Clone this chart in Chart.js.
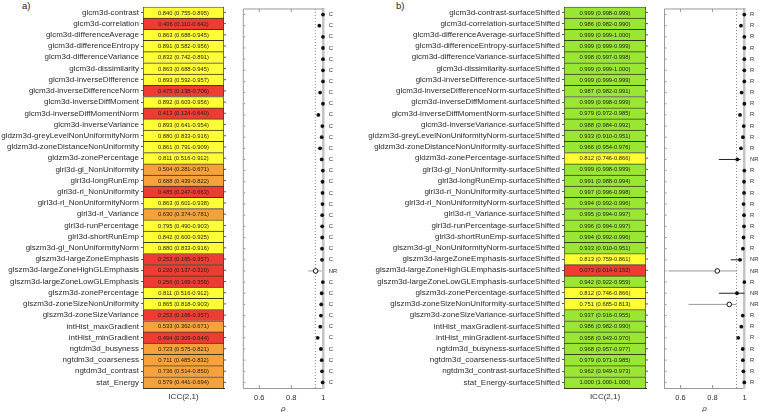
<!DOCTYPE html>
<html>
<head>
<meta charset="utf-8">
<script src="https://cdn.jsdelivr.net/npm/chart.js@4.4.0/dist/chart.umd.min.js"></script>
<style>
  html, body { margin: 0; padding: 0; background: #fff; overflow: hidden; }
  body { width: 759px; height: 412px; position: relative; font-family: 'Liberation Sans', Arial, sans-serif; }
  .box { position: absolute; top: 0; height: 416px; }
  .tag { position: absolute; top: 0; font-size: 9.5px; line-height: 12px; color: #222; }
</style>
</head>
<body>
<div class="tag" style="left:22px">a)</div>
<div class="tag" style="left:396px">b)</div>
<div class="box" style="left:0;width:232px"><canvas id="iccA"></canvas></div>
<div class="box" style="left:236px;width:110px"><canvas id="rhoA"></canvas></div>
<div class="box" style="left:330px;width:324px"><canvas id="iccB"></canvas></div>
<div class="box" style="left:657px;width:102px"><canvas id="rhoB"></canvas></div>
<script>
const features = [
  'glcm3d-contrast', 'glcm3d-correlation', 'glcm3d-differenceAverage', 'glcm3d-differenceEntropy',
  'glcm3d-differenceVariance', 'glcm3d-dissimilarity', 'glcm3d-inverseDifference', 'glcm3d-inverseDifferenceNorm',
  'glcm3d-inverseDiffMoment', 'glcm3d-inverseDiffMomentNorm', 'glcm3d-inverseVariance',
  'gldzm3d-greyLevelNonUniformityNorm', 'gldzm3d-zoneDistanceNonUniformity', 'gldzm3d-zonePercentage',
  'glrl3d-gl_NonUniformity', 'glrl3d-longRunEmp', 'glrl3d-rl_NonUniformity', 'glrl3d-rl_NonUniformityNorm',
  'glrl3d-rl_Variance', 'glrl3d-runPercentage', 'glrl3d-shortRunEmp', 'glszm3d-gl_NonUniformityNorm',
  'glszm3d-largeZoneEmphasis', 'glszm3d-largeZoneHighGLEmphasis', 'glszm3d-largeZoneLowGLEmphasis',
  'glszm3d-zonePercentage', 'glszm3d-zoneSizeNonUniformity', 'glszm3d-zoneSizeVariance',
  'intHist_maxGradient', 'intHist_minGradient', 'ngtdm3d_busyness', 'ngtdm3d_coarseness',
  'ngtdm3d_contrast', 'stat_Energy'
]
const featuresB = features.map(f => f + '-surfaceShifted')

// ICC(2,1) with 95% CI
const iccA = [0.840, 0.406, 0.863, 0.891, 0.832, 0.863, 0.893, 0.475, 0.892, 0.413, 0.893, 0.880, 0.861, 0.811, 0.504, 0.688, 0.485,
  0.863, 0.630, 0.795, 0.842, 0.880, 0.253, 0.220, 0.256, 0.811, 0.865, 0.253, 0.533, 0.494, 0.723, 0.711, 0.736, 0.579]
const iccLoA = [0.755, 0.110, 0.688, 0.582, 0.742, 0.688, 0.592, 0.138, 0.603, 0.124, 0.641, 0.833, 0.791, 0.516, 0.281, 0.439, 0.247,
  0.601, 0.374, 0.490, 0.600, 0.833, 0.165, 0.137, 0.169, 0.516, 0.818, 0.166, 0.362, 0.309, 0.575, 0.485, 0.514, 0.441]
const iccHiA = [0.895, 0.642, 0.945, 0.956, 0.891, 0.945, 0.957, 0.706, 0.956, 0.640, 0.954, 0.916, 0.909, 0.912, 0.671, 0.822, 0.663,
  0.938, 0.781, 0.903, 0.925, 0.916, 0.357, 0.320, 0.359, 0.912, 0.903, 0.357, 0.671, 0.644, 0.821, 0.832, 0.850, 0.694]

const iccB = [0.999, 0.986, 0.999, 0.999, 0.998, 0.999, 0.999, 0.987, 0.999, 0.979, 0.988, 0.933, 0.966, 0.812, 0.999, 0.991, 0.997,
  0.994, 0.995, 0.996, 0.994, 0.933, 0.813, 0.073, 0.942, 0.812, 0.751, 0.937, 0.986, 0.958, 0.968, 0.979, 0.962, 1.000]
const iccLoB = [0.998, 0.982, 0.999, 0.999, 0.997, 0.999, 0.999, 0.982, 0.998, 0.972, 0.984, 0.910, 0.954, 0.746, 0.998, 0.988, 0.996,
  0.992, 0.994, 0.994, 0.992, 0.910, 0.759, 0.014, 0.922, 0.746, 0.685, 0.916, 0.982, 0.943, 0.957, 0.971, 0.949, 1.000]
const iccHiB = [0.999, 0.990, 1.000, 0.999, 0.998, 1.000, 0.999, 0.991, 0.999, 0.985, 0.992, 0.951, 0.976, 0.866, 0.999, 0.994, 0.998,
  0.996, 0.997, 0.997, 0.996, 0.951, 0.861, 0.152, 0.959, 0.866, 0.813, 0.955, 0.990, 0.970, 0.977, 0.985, 0.973, 1.000]

// rho with interval (null = too small to see)
const rhoA = [0.998, 0.975, 0.998, 0.998, 0.998, 0.998, 0.998, 0.980, 0.998, 0.969, 0.994, 0.990, 0.980, 0.990, 0.997, 0.995, 0.995,
  0.995, 0.993, 0.993, 0.993, 0.992, 0.992, 0.952, 0.997, 0.990, 0.987, 0.985, 0.981, 0.965, 0.985, 0.990, 0.992, 0.996]
const rhoLoA = [null, null, null, null, null, null, null, null, null, null, null, 0.985, 0.965, null, null, null, null,
  null, null, null, null, null, null, 0.906, null, null, null, null, null, null, null, null, null, null]
const rhoHiA = [null, null, null, null, null, null, null, null, null, null, null, 0.994, 0.994, null, null, null, null,
  null, null, null, null, null, null, 0.990, null, null, null, null, null, null, null, null, null, null]
const statusA = ['C', 'C', 'C', 'C', 'C', 'C', 'C', 'C', 'C', 'C', 'C', 'C', 'C', 'C', 'C', 'C', 'C',
  'C', 'C', 'C', 'C', 'C', 'C', 'NR', 'C', 'C', 'C', 'C', 'C', 'C', 'C', 'C', 'C', 'C']
const openA = [23]

const rhoB = [0.999, 0.978, 0.999, 0.999, 0.999, 0.999, 0.999, 0.982, 0.999, 0.972, 0.995, 0.990, 0.978, 0.955, 0.999, 0.997, 0.997,
  0.994, 0.997, 0.997, 0.994, 0.990, 0.972, 0.830, 0.999, 0.953, 0.905, 0.989, 0.980, 0.961, 0.989, 0.990, 0.993, 0.999]
const rhoLoB = [null, null, null, null, null, null, null, null, null, null, null, null, 0.970, 0.840, null, null, null,
  null, null, null, null, null, 0.914, 0.524, null, 0.840, 0.650, null, null, null, null, null, null, null]
const rhoHiB = [null, null, null, null, null, null, null, null, null, null, null, null, 0.986, 0.976, null, null, null,
  null, null, null, null, null, 0.985, 0.955, null, 1.000, 0.950, null, null, null, null, null, null, null]
const statusB = ['R', 'R', 'R', 'R', 'R', 'R', 'R', 'R', 'R', 'R', 'R', 'R', 'R', 'NR', 'R', 'R', 'R',
  'R', 'R', 'R', 'R', 'R', 'NR', 'NR', 'R', 'NR', 'NR', 'R', 'R', 'R', 'R', 'R', 'R', 'R']
const openB = [23, 26]

const rhoTicks = [0.6, 0.8, 1]
const rhoRef = 0.95

const FONT = "'Liberation Sans', Arial, sans-serif"
const TXT = '#2b2b2b'

function cellColor(v) {
  if (v < 0.5) return '#ee3b33'
  if (v < 0.75) return '#f7a13a'
  if (v < 0.9) return '#ffff33'
  return '#99e633'
}

function tableChart(id, labels, icc, lo, hi, axisW) {
  const cellText = {
    id: 'cellText',
    afterDatasetsDraw(chart) {
      const { ctx, chartArea: a, scales: { x, y } } = chart
      ctx.save()
      ctx.font = '5.8px ' + FONT
      ctx.fillStyle = '#222'
      ctx.textAlign = 'center'
      ctx.textBaseline = 'middle'
      icc.forEach((v, i) => {
        const s = v.toFixed(3) + ' (' + lo[i].toFixed(3) + '-' + hi[i].toFixed(3) + ')'
        ctx.fillText(s, x.getPixelForValue(0.5), y.getPixelForValue(i) + 0.5)
      })
      // small ticks on the right edge
      ctx.strokeStyle = '#555'
      ctx.lineWidth = 1
      ctx.beginPath()
      icc.forEach((v, i) => {
        const py = y.getPixelForValue(i)
        ctx.moveTo(a.right, py)
        ctx.lineTo(a.right + 2, py)
      })
      ctx.stroke()
      ctx.restore()
    }
  }
  return new Chart(document.getElementById(id), {
    type: 'bar',
    data: {
      labels: labels,
      datasets: [{
        data: labels.map(() => 1),
        backgroundColor: icc.map(cellColor),
        borderColor: '#3a3a20',
        borderWidth: { top: 1, right: 1, bottom: 0, left: 1 },
        borderSkipped: false,
        barPercentage: 1,
        categoryPercentage: 1
      }]
    },
    options: {
      indexAxis: 'y',
      maintainAspectRatio: false,
      animation: false,
      layout: { padding: { top: 0.5, right: 8, left: 0, bottom: 0 } },
      plugins: { legend: { display: false }, tooltip: { enabled: false } },
      scales: {
        x: {
          min: 0,
          max: 1,
          ticks: { display: false },
          grid: { display: false, drawTicks: false },
          border: { color: '#3a3a20' },
          title: { display: true, text: 'ICC(2,1)', color: TXT, font: { family: FONT, size: 8 }, padding: { top: 0, bottom: 14.6 } },
          afterFit: s => { s.height = 28 }
        },
        y: {
          ticks: { autoSkip: false, color: TXT, font: { family: FONT, size: 8 }, padding: 2 },
          grid: { drawOnChartArea: false, offset: false, tickLength: 2, color: '#555' },
          border: { display: false },
          afterFit: s => { s.width = axisW }
        }
      }
    },
    plugins: [cellText]
  })
}

function rhoChart(id, rho, lo, hi, status, open, padLeft, axisW) {
  const frame = {
    id: 'frame',
    beforeDatasetsDraw(chart) {
      const { ctx, chartArea: a, scales: { x, y } } = chart
      ctx.save()
      ctx.strokeStyle = '#9a9a9a'
      ctx.lineWidth = 1
      ctx.beginPath()
      ctx.moveTo(a.left, a.bottom)
      ctx.lineTo(a.left, a.top)
      ctx.lineTo(a.right, a.top)
      ctx.stroke()
      ctx.beginPath()
      rhoTicks.slice(0, -1).forEach(t => {
        const px = x.getPixelForValue(t)
        ctx.moveTo(px, a.top); ctx.lineTo(px, a.top + 3)
        ctx.moveTo(px, a.bottom); ctx.lineTo(px, a.bottom - 3)
      })
      rho.forEach((v, i) => {
        const py = y.getPixelForValue(i)
        ctx.moveTo(a.left, py); ctx.lineTo(a.left + 2, py)
      })
      ctx.stroke()
      const xr = x.getPixelForValue(rhoRef)
      ctx.setLineDash([1, 2])
      ctx.strokeStyle = '#888'
      ctx.beginPath()
      ctx.moveTo(xr, a.top)
      ctx.lineTo(xr, a.bottom)
      ctx.stroke()
      ctx.setLineDash([])
      rho.forEach((v, i) => {
        if (lo[i] == null) return
        ctx.strokeStyle = open.includes(i) ? '#9a9a9a' : '#222'
        const py = y.getPixelForValue(i)
        ctx.beginPath()
        ctx.moveTo(x.getPixelForValue(lo[i]), py)
        ctx.lineTo(x.getPixelForValue(hi[i]), py)
        ctx.stroke()
      })
      ctx.restore()
    }
  }
  return new Chart(document.getElementById(id), {
    type: 'scatter',
    data: {
      datasets: [{
        data: rho.map((v, i) => ({ x: v, y: i })),
        pointRadius: rho.map((v, i) => open.includes(i) ? 2.3 : 1.9),
        pointBackgroundColor: rho.map((v, i) => open.includes(i) ? '#fff' : '#111'),
        pointBorderColor: '#111',
        pointBorderWidth: rho.map((v, i) => open.includes(i) ? 1 : 0),
        clip: false
      }]
    },
    options: {
      maintainAspectRatio: false,
      animation: false,
      layout: { padding: { top: 0.5, left: padLeft, right: 0, bottom: 0 } },
      plugins: { legend: { display: false }, tooltip: { enabled: false } },
      scales: {
        x: {
          type: 'linear',
          min: 0.5,
          max: 1,
          afterBuildTicks: s => { s.ticks = rhoTicks.map(v => ({ value: v })) },
          ticks: { color: TXT, font: { family: FONT, size: 7.5 }, padding: 5, callback: v => String(v) },
          grid: { display: false, drawTicks: false },
          border: { color: '#9a9a9a' },
          title: { display: true, text: 'ρ', color: TXT, font: { family: FONT, size: 8, style: 'italic' }, padding: { top: 0, bottom: 2 } },
          afterFit: s => { s.height = 28 }
        },
        y: {
          type: 'linear',
          position: 'right',
          reverse: true,
          min: -0.5,
          max: status.length - 0.5,
          afterBuildTicks: s => { s.ticks = status.map((v, i) => ({ value: i })) },
          ticks: { autoSkip: false, color: TXT, font: { family: FONT, size: 5.8 }, padding: 5.5, callback: v => status[v] },
          grid: { display: false, drawTicks: false },
          border: { color: '#c4c4c4', width: 2.5 },
          afterFit: s => { s.width = axisW }
        }
      }
    },
    plugins: [frame]
  })
}

tableChart('iccA', features, iccA, iccLoA, iccHiA, 143)
rhoChart('rhoA', rhoA, rhoLoA, rhoHiA, statusA, openA, 7.3, 22.7)
tableChart('iccB', featuresB, iccB, iccLoB, iccHiB, 234)
rhoChart('rhoB', rhoB, rhoLoB, rhoHiB, statusB, openB, 7.5, 14.5)
</script>
</body>
</html>
